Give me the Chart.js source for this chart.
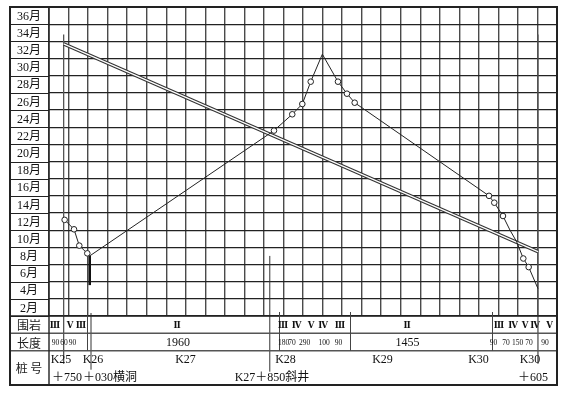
<!DOCTYPE html>
<html>
<head>
<meta charset="utf-8">
<script src="https://cdn.jsdelivr.net/npm/chart.js@4.4.0/dist/chart.umd.min.js"></script>
<style>
  html, body { margin: 0; padding: 0; background: #fff; }
  canvas { display: block; }
</style>
</head>
<body>
<canvas id="plan" width="568" height="394"></canvas>
<script>
// 月份刻度
const monthTicks = [36, 34, 32, 30, 28, 26, 24, 22, 20, 18, 16, 14, 12, 10, 8, 6, 4, 2];

// 掘进进度线  (里程: m from K25+000, 时间: 月)
const progressKm    = [760, 856, 910, 992, 1017, 2903, 3090, 3193, 3279, 3398, 3558, 3650, 3729, 5104, 5158, 5247, 5319, 5387, 5455, 5510, 5605];
const progressMonth = [11.2, 10.1, 8.2, 7.3, 7.0, 21.6, 23.5, 24.7, 27.3, 30.5, 27.3, 25.9, 24.85, 14.0, 13.2, 11.65, 10.0, 8.65, 6.7, 5.7, 3.2];
const circledIdx    = [0, 1, 2, 3, 5, 6, 7, 8, 10, 11, 12, 13, 14, 15, 18, 19];

// 计划线 (双线)
const planKm = [750, 5605];
const planMonth = [31.7, 7.5];

// 横洞施工
const aditKm = [1017, 1017];
const aditMonth = [3.6, 7.0];

// 洞口 / 横洞 / 斜井 位置
const portalKm = [750, 5605];
const portalTopMonth = 32.8;
const aditMouthKm = 1030;
const shaftKm = 2860;
const shaftTopMonth = 7.0;

// 围岩 / 长度
const rockClass = ['Ⅲ', 'Ⅴ', 'Ⅲ', 'Ⅱ', 'Ⅲ', 'Ⅳ', 'Ⅴ', 'Ⅳ', 'Ⅲ', 'Ⅱ', 'Ⅲ', 'Ⅳ', 'Ⅴ', 'Ⅳ', 'Ⅴ'];
const segLength = [90, 60, 90, 1960, 180, 70, 290, 100, 90, 1455, 90, 70, 150, 70, 90];

// 桩号
const stakeTop = ['K25', 'K26', 'K27', 'K28', 'K29', 'K30', 'K30'];
const stakeBottom = ['＋750', '＋030横洞', 'K27＋850斜井', '＋605'];

/* ---------- layout of the table (pixels) ---------- */
const frameL = 10, frameR = 557, frameT = 7;
const rowH = [17.3, 17.4, 34.3];
const rockTextX = [55, 70, 81, 177, 283, 296.5, 311, 323, 340, 407, 499, 513, 525, 535, 549.5];
const lenTextX = [55.5, 64, 72.5, 178, 283.5, 292, 304.5, 324, 338.5, 407.5, 493.5, 506, 517.5, 529, 545];
const stakeTopX = [61, 93, 185.5, 285.5, 382.5, 478.5, 530];
const stakeBottomX = [[52, 'left'], [83, 'left'], [272, 'center'], [548, 'right']];

const serif = '"Liberation Serif", "Noto Sans CJK SC", serif';

const tablePlugin = {
  id: 'table',
  beforeDatasetsDraw(chart) {
    const { ctx, chartArea: a, scales: { x, y } } = chart;
    const yTab = a.bottom + rowH[0] + rowH[1];
    ctx.save();
    // row grid lines continued into the label column
    ctx.strokeStyle = '#222';
    ctx.lineWidth = 1.2;
    for (let v = 0; v <= 36; v += 2) {
      const py = Math.round(y.getPixelForValue(v)) + 0.5;
      ctx.beginPath(); ctx.moveTo(frameL, py); ctx.lineTo(a.left, py); ctx.stroke();
    }
    // 洞口 lines
    ctx.strokeStyle = '#555';
    ctx.lineWidth = 1.3;
    portalKm.forEach(k => {
      const px = x.getPixelForValue(k);
      ctx.beginPath(); ctx.moveTo(px, y.getPixelForValue(portalTopMonth)); ctx.lineTo(px, yTab + 13); ctx.stroke();
    });
    // 横洞 mouth
    let px = x.getPixelForValue(aditMouthKm);
    ctx.lineWidth = 1;
    ctx.strokeStyle = '#333';
    ctx.beginPath(); ctx.moveTo(px, a.bottom - 3); ctx.lineTo(px, yTab + 19); ctx.stroke();
    // 斜井
    px = x.getPixelForValue(shaftKm);
    ctx.beginPath(); ctx.moveTo(px, y.getPixelForValue(shaftTopMonth)); ctx.lineTo(px, yTab + 21); ctx.stroke();
    ctx.restore();
  },
  afterDraw(chart) {
    const { ctx, chartArea: a, scales: { x, y } } = chart;
    const r1 = a.bottom, r2 = r1 + rowH[0], r3 = r2 + rowH[1], r4 = r3 + rowH[2];
    ctx.save();

    // month labels, centred in the row under each value
    ctx.fillStyle = '#111';
    ctx.font = '12px ' + serif;
    ctx.textAlign = 'center';
    ctx.textBaseline = 'middle';
    monthTicks.forEach(m => ctx.fillText(m + '月', 29, y.getPixelForValue(m - 1) + 1));

    // table lines
    ctx.strokeStyle = '#555';
    ctx.lineWidth = 1.4;
    [r2, r3].forEach(r => { ctx.beginPath(); ctx.moveTo(frameL, r); ctx.lineTo(frameR, r); ctx.stroke(); });
    ctx.strokeStyle = '#222';
    ctx.lineWidth = 1.4;
    ctx.beginPath(); ctx.moveTo(frameL, r1); ctx.lineTo(frameR, r1); ctx.stroke();
    ctx.beginPath(); ctx.moveTo(a.left, frameT); ctx.lineTo(a.left, r4); ctx.stroke();

    // cluster separators in 围岩 / 长度 rows
    let km = 750;
    const ends = [];
    segLength.forEach(l => { km += l; ends.push(km); });
    ctx.strokeStyle = '#444';
    ctx.lineWidth = 1;
    [2, 3, 8, 9].forEach(i => {
      const px = Math.round(x.getPixelForValue(ends[i])) + 0.5;
      ctx.beginPath(); ctx.moveTo(px, r1 - 4); ctx.lineTo(px, r3); ctx.stroke();
    });

    // row headers
    ctx.fillStyle = '#222';
    ctx.font = '12px "Noto Sans CJK SC", sans-serif';
    ctx.textAlign = 'center';
    ctx.fillText('围岩', 29, (r1 + r2) / 2 + 1);
    ctx.fillText('长度', 29, (r2 + r3) / 2 + 1);
    ctx.fillText('桩 号', 29, (r3 + r4) / 2 + 1);

    // 围岩 classes
    ctx.fillStyle = '#111';
    ctx.font = 'bold 9.5px "DejaVu Serif Condensed", "DejaVu Serif", serif';
    rockClass.forEach((c, i) => ctx.fillText(c, rockTextX[i], (r1 + r2) / 2 + 1));

    // 长度
    segLength.forEach((l, i) => {
      ctx.font = (l > 1000 ? '12px ' : '7.5px ') + serif;
      ctx.fillText(String(l), lenTextX[i], (r2 + r3) / 2 + 1);
    });

    // 桩号
    ctx.font = '12px ' + serif;
    stakeTop.forEach((s, i) => ctx.fillText(s, stakeTopX[i], r3 + 9));
    stakeBottom.forEach((s, i) => {
      ctx.textAlign = stakeBottomX[i][1];
      ctx.fillText(s, stakeBottomX[i][0], r3 + 27);
    });

    // outer frame
    ctx.strokeStyle = '#222';
    ctx.lineWidth = 2;
    ctx.strokeRect(frameL, frameT, frameR - frameL, r4 - frameT);
    ctx.restore();
  }
};

const toPts = (xs, ys) => xs.map((v, i) => ({ x: v, y: ys[i] }));

new Chart(document.getElementById('plan'), {
  type: 'line',
  data: {
    datasets: [
      {
        data: toPts(progressKm, progressMonth),
        borderColor: '#222',
        borderWidth: 1,
        pointRadius: progressKm.map((_, i) => circledIdx.includes(i) ? 2.8 : 0),
        pointBackgroundColor: '#fff',
        pointBorderColor: '#222',
        pointBorderWidth: 1,
        tension: 0,
        order: 0
      },
      {
        data: toPts(aditKm, aditMonth),
        borderColor: '#111',
        borderWidth: 2.5,
        pointRadius: 0,
        order: 0
      },
      {
        data: toPts(planKm, planMonth),
        borderColor: '#fff',
        borderWidth: 1.2,
        pointRadius: 0,
        order: 1
      },
      {
        data: toPts(planKm, planMonth),
        borderColor: '#333',
        borderWidth: 3.4,
        pointRadius: 0,
        order: 2
      }
    ]
  },
  options: {
    responsive: false,
    animation: false,
    devicePixelRatio: 1,
    layout: { padding: { left: 49, right: 11, top: 7, bottom: 78 } },
    plugins: { legend: { display: false }, tooltip: { enabled: false } },
    scales: {
      x: {
        type: 'linear', min: 600, max: 5800,
        ticks: { stepSize: 200, display: false },
        grid: { color: '#4a4a4a', lineWidth: 1.4, drawTicks: false },
        border: { display: false }
      },
      y: {
        min: 0, max: 36,
        ticks: { stepSize: 2, display: false },
        grid: { color: '#222', lineWidth: 1.2, drawTicks: false },
        border: { display: false }
      }
    }
  },
  plugins: [tablePlugin]
});
</script>
</body>
</html>
